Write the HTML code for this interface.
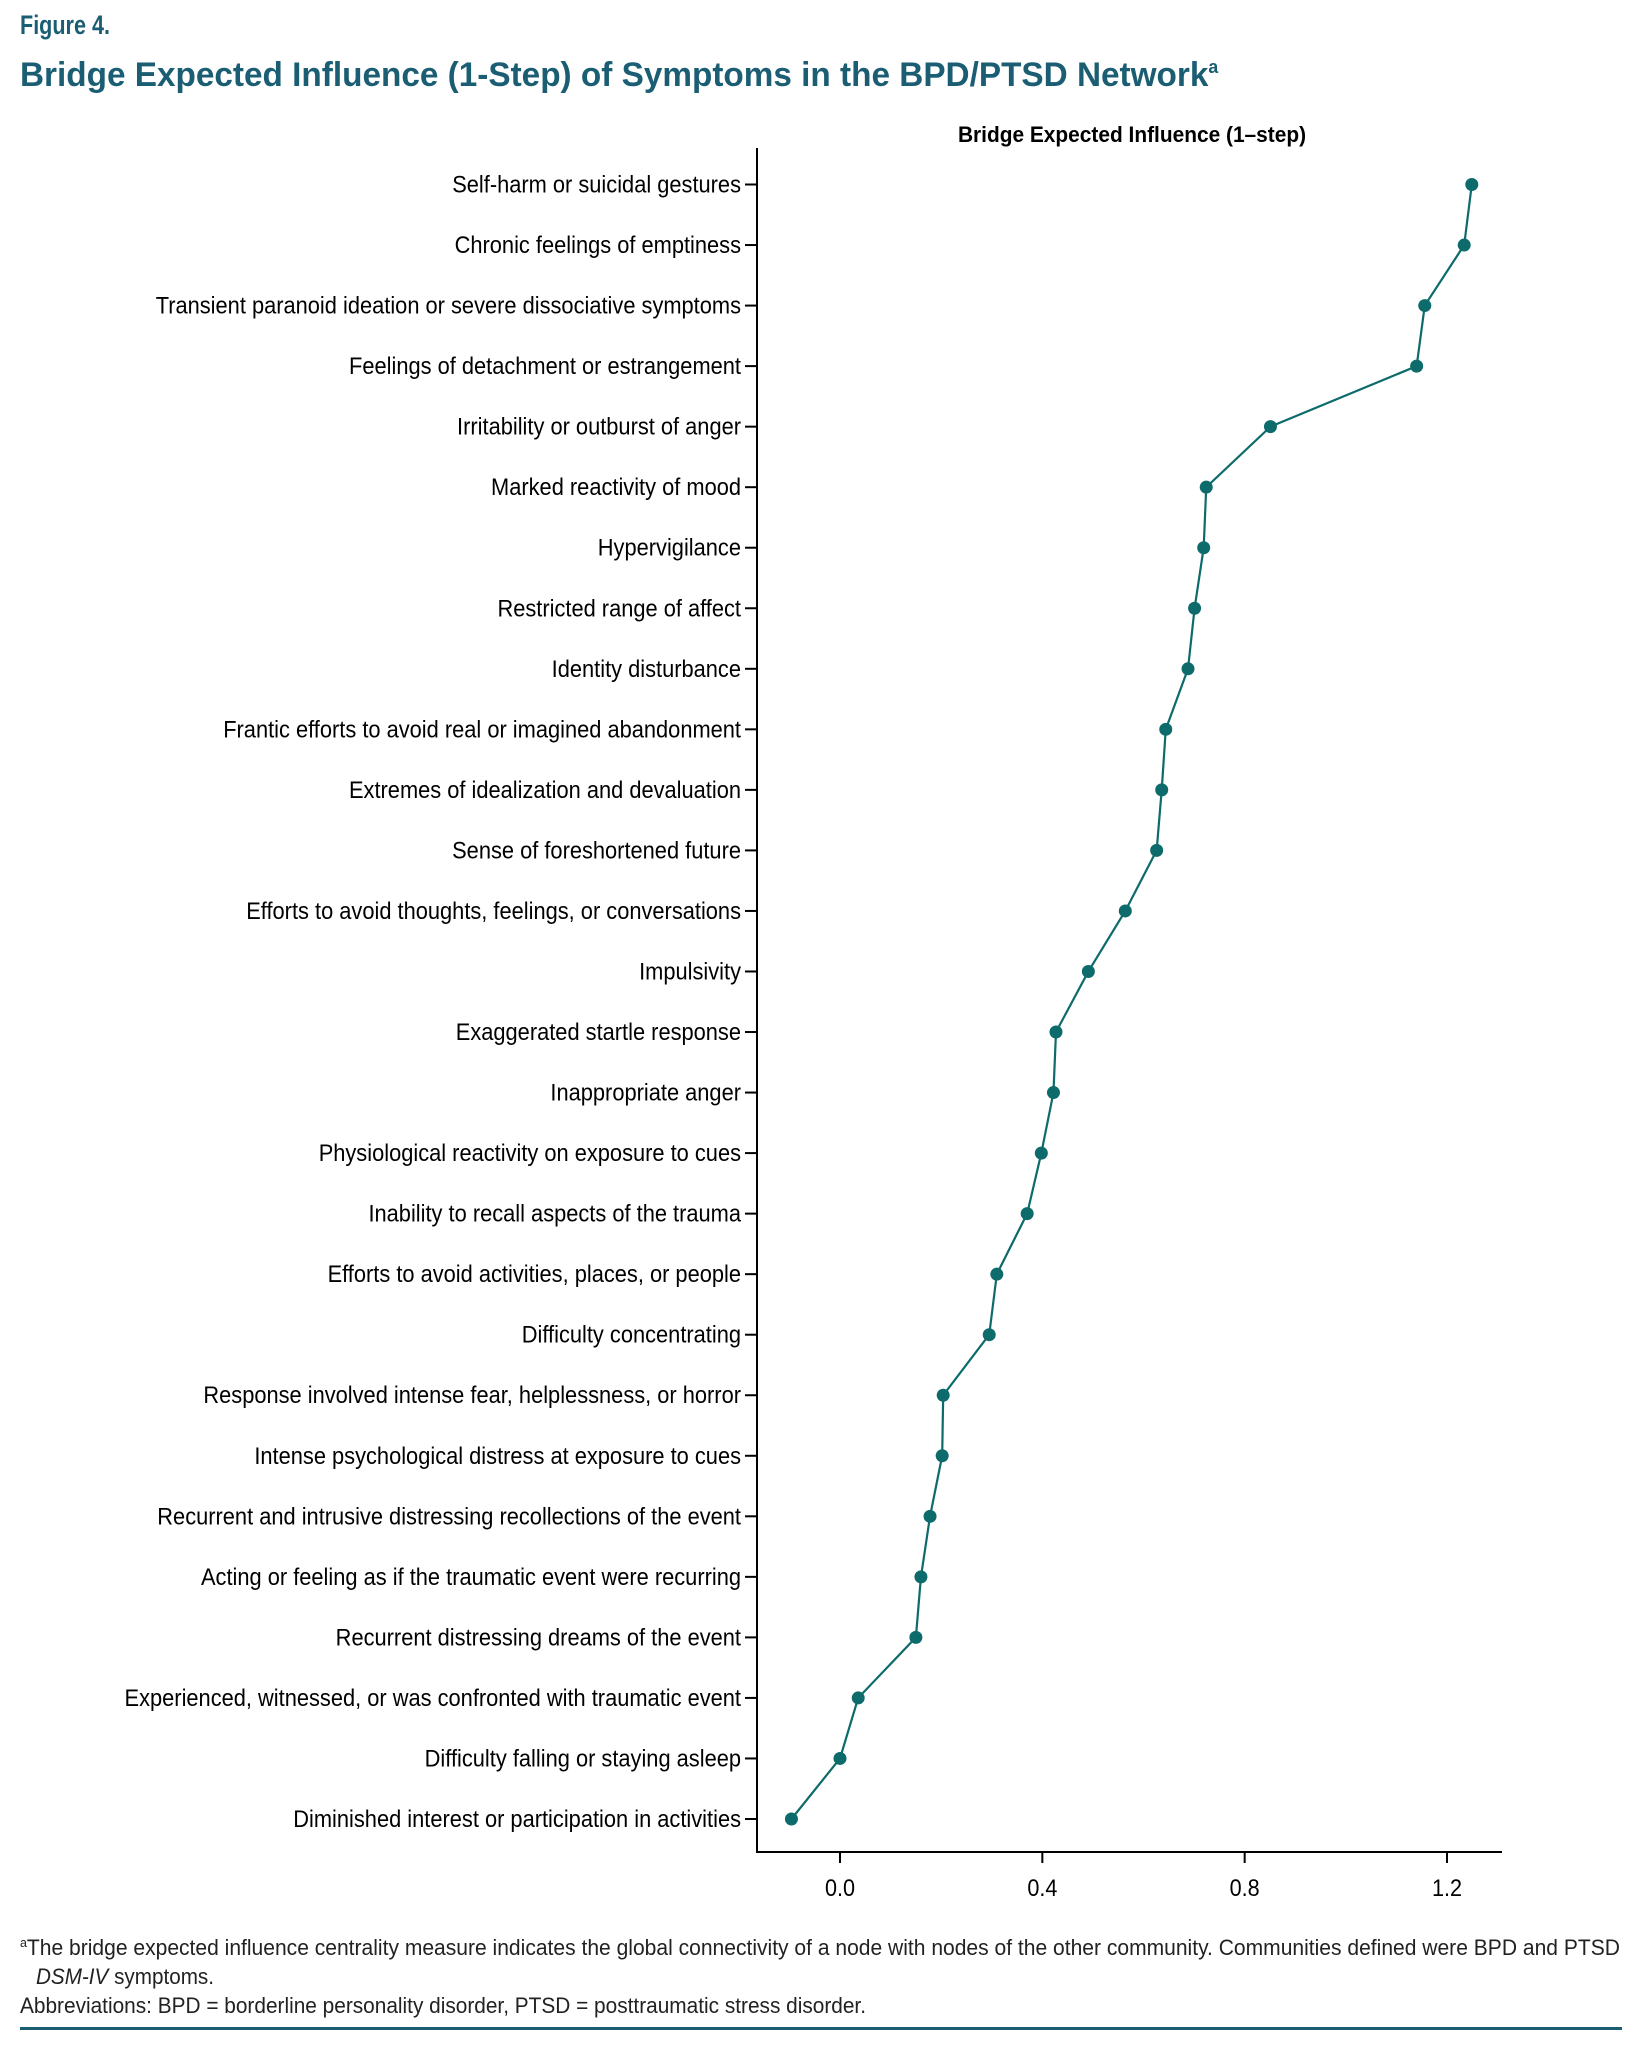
<!DOCTYPE html>
<html><head><meta charset="utf-8"><style>
body{margin:0;background:#fff;}
svg text{font-family:"Liberation Sans",sans-serif;}
</style></head><body>
<svg width="1625" height="2048" viewBox="0 0 1625 2048" xmlns="http://www.w3.org/2000/svg">
<text transform="translate(20,34) scale(0.8,1)" font-size="27" font-weight="bold" fill="#1b5e73">Figure 4.</text>
<text transform="translate(20,86) scale(0.98,1)" font-size="34" font-weight="bold" fill="#1b5e73">Bridge Expected Influence (1-Step) of Symptoms in the BPD/PTSD Network<tspan font-size="18" dy="-13">a</tspan></text>
<text transform="translate(1132,142) scale(0.95,1)" font-size="22" font-weight="bold" text-anchor="middle" fill="#000">Bridge Expected Influence (1–step)</text>
<g id="axes"></g>
<g id="marks"></g>
<text x="20" y="1955" font-size="22" fill="#222" textLength="1600" lengthAdjust="spacingAndGlyphs"><tspan font-size="13" dy="-8">a</tspan><tspan dy="8">The bridge expected influence centrality measure indicates the global connectivity of a node with nodes of the other community. Communities defined were BPD and PTSD</tspan></text>
<text x="36" y="1984" font-size="22" fill="#222" textLength="178" lengthAdjust="spacingAndGlyphs"><tspan font-style="italic">DSM-IV</tspan> symptoms.</text>
<text x="20" y="2013" font-size="22" fill="#222" textLength="846" lengthAdjust="spacingAndGlyphs">Abbreviations: BPD = borderline personality disorder, PTSD = posttraumatic stress disorder.</text>
<rect x="20" y="2027" width="1602" height="3" fill="#1b5e73"/>
</svg>
<script>
const categories=["Self-harm or suicidal gestures","Chronic feelings of emptiness","Transient paranoid ideation or severe dissociative symptoms","Feelings of detachment or estrangement ","Irritability or outburst of anger","Marked reactivity of mood","Hypervigilance","Restricted range of affect","Identity disturbance","Frantic efforts to avoid real or imagined abandonment","Extremes of idealization and devaluation","Sense of foreshortened future","Efforts to avoid thoughts, feelings, or conversations","Impulsivity","Exaggerated startle response","Inappropriate anger","Physiological reactivity on exposure to cues","Inability to recall aspects of the trauma","Efforts to avoid activities, places, or people ","Difficulty concentrating","Response involved intense fear, helplessness, or horror","Intense psychological distress at exposure to cues","Recurrent and intrusive distressing recollections of the event","Acting or feeling as if the traumatic event were recurring","Recurrent distressing dreams of the event","Experienced, witnessed, or was confronted with traumatic event","Difficulty falling or staying asleep","Diminished interest or participation in activities"];
const values=[1.249,1.234,1.156,1.140,0.851,0.724,0.719,0.701,0.688,0.644,0.636,0.626,0.564,0.491,0.427,0.422,0.398,0.370,0.310,0.295,0.204,0.202,0.178,0.160,0.150,0.036,0.0,-0.096];
const xTicks=[0.0,0.4,0.8,1.2];
const xTickLabels=["0.0","0.4","0.8","1.2"];
const NS="http://www.w3.org/2000/svg";
const x=v=>840+(v-0)*(1447-840)/1.2;
const y=i=>184.5+i*(1819-184.5)/(categories.length-1);
const AXY=1852;
const ax=document.getElementById('axes'),mk=document.getElementById('marks');
function el(t,a,p){const e=document.createElementNS(NS,t);for(const k in a)e.setAttribute(k,a[k]);p.appendChild(e);return e;}
const yl=el('line',{x1:757,y1:148,x2:757,y2:AXY+1,stroke:'#000','stroke-width':2},ax);


const xl=el('line',{x1:756,y1:AXY,x2:1502,y2:AXY,stroke:'#000','stroke-width':2},ax);


xTicks.forEach((t,i)=>{
  const tk=el('line',{x1:x(t),y1:AXY,x2:x(t),y2:AXY+11,stroke:'#000','stroke-width':2},ax);
  
  
  const tl=el('text',{transform:'translate('+x(t)+','+(AXY+44)+') scale(0.9,1)','font-size':24,'text-anchor':'middle',fill:'#000'},ax);
  tl.textContent=xTickLabels[i];
  
  
});
categories.forEach((c,i)=>{
  const tk=el('line',{x1:745,y1:y(i),x2:757,y2:y(i),stroke:'#000','stroke-width':2},ax);
  
  
  const tl=el('text',{transform:'translate(741,'+(y(i)+8)+') scale(0.91,1)','font-size':24,'text-anchor':'end',fill:'#000','xml:space':'preserve'},ax);
  tl.textContent=c;
  
  
});
const pts=values.map((v,i)=>x(v)+','+y(i)).join(' ');
const pl=el('polyline',{points:pts,fill:'none',stroke:'#0d6b6b','stroke-width':2.2},mk);


values.forEach((v,i)=>{
  const c=el('circle',{cx:x(v),cy:y(i),r:6.5,fill:'#0d6b6b'},mk);
  
  
});
</script>
</body></html>
